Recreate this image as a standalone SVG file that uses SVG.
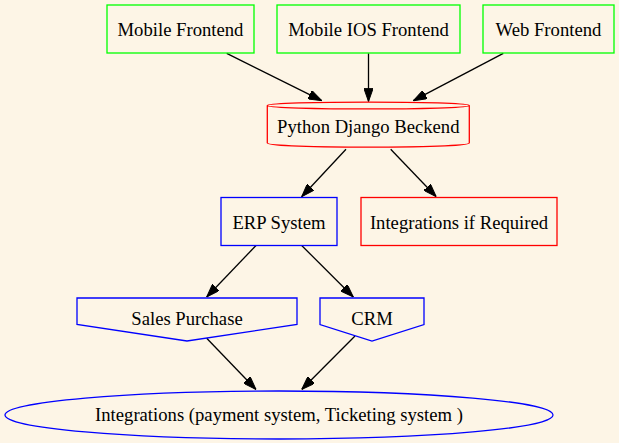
<svg xmlns="http://www.w3.org/2000/svg" width="619" height="443" viewBox="0 0 619 443">
<style>
text{font-family:"Liberation Serif","Times New Roman",serif;font-size:18.67px;fill:#000;text-anchor:middle}
.g{fill:none;stroke:#00ff00;stroke-width:1.3}
.r{fill:none;stroke:#ff0000;stroke-width:1.3}
.b{fill:none;stroke:#0000ff;stroke-width:1.3}
.e{fill:none;stroke:#000;stroke-width:1.3;marker-end:url(#ah)}
</style>
<defs>
<marker id="ah" markerUnits="userSpaceOnUse" viewBox="0 0 13.3 9.4" refX="13.3" refY="4.7" markerWidth="13.3" markerHeight="9.4" orient="auto">
<path d="M0,0 L13.3,4.7 L0,9.4 Z" fill="#000" stroke="#000" stroke-width="1"/>
</marker>
</defs>
<rect width="619" height="443" fill="#fdf5e6"/>
<g id="connectors">
<path class="e" d="M226.7,53.3 L321.7,100.7"/>
<path class="e" d="M368.5,53.3 L368.5,101.5"/>
<path class="e" d="M503.3,53.3 L413.3,100.7"/>
<path class="e" d="M346,149.3 L301.7,196.7"/>
<path class="e" d="M390.7,149.3 L436.2,196.7"/>
<path class="e" d="M256,245.5 L206.7,297"/>
<path class="e" d="M301.7,245.5 L353.3,297"/>
<path class="e" d="M206.7,338.3 L256,389.5"/>
<path class="e" d="M355,336 L301.7,389.5"/>
</g>
<g id="mobile-frontend">
<rect class="g" x="107" y="5" width="147" height="48"/>
<text x="180.5" y="36">Mobile Frontend</text>
</g>
<g id="mobile-ios-frontend">
<rect class="g" x="277" y="5" width="183" height="48"/>
<text x="368.5" y="36">Mobile IOS Frontend</text>
</g>
<g id="web-frontend">
<rect class="g" x="483" y="5" width="131" height="48"/>
<text x="548.5" y="36">Web Frontend</text>
</g>
<g id="django">
<path class="r" d="M469.3,105.5 C469.3,101 267.3,101 267.3,105.5 L267.3,143 C267.3,148.5 469.3,148.5 469.3,143 Z M469.3,105.5 C469.3,110 267.3,110 267.3,105.5"/>
<text x="368.3" y="132.5">Python Django Beckend</text>
</g>
<g id="erp">
<rect class="b" x="221" y="197.5" width="116" height="48"/>
<text x="279" y="228.5">ERP System</text>
</g>
<g id="integrations-if-required">
<rect class="r" x="361" y="197.5" width="196" height="48"/>
<text x="459" y="228.5">Integrations if Required</text>
</g>
<g id="sales-purchase">
<polygon class="b" points="77,298 297,298 297,324.5 187,341 77,324.5"/>
<text x="187" y="325">Sales Purchase</text>
</g>
<g id="crm">
<polygon class="b" points="320,298 424,298 424,324.5 372,341 320,324.5"/>
<text x="372" y="325">CRM</text>
</g>
<g id="integrations">
<ellipse class="b" cx="279" cy="415" rx="274" ry="24"/>
<text x="279" y="421">Integrations (payment system, Ticketing system )</text>
</g>
</svg>
